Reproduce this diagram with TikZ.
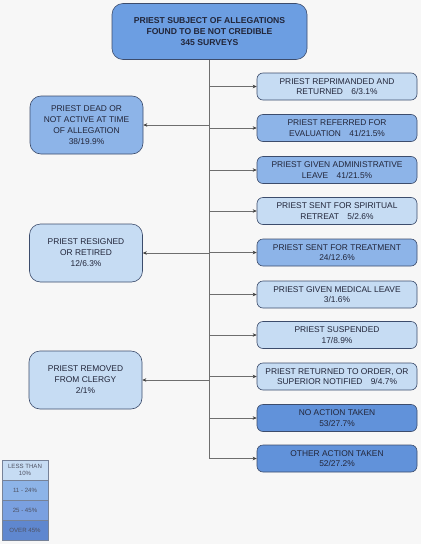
\documentclass[tikz,border=0pt]{standalone}
\usepackage{fontspec}
\setmainfont{Liberation Sans}
\usetikzlibrary{arrows.meta}
\definecolor{bgc}{HTML}{F7F7F7}
\definecolor{cA}{HTML}{C6DCF3}
\definecolor{cB}{HTML}{8DB4E8}
\definecolor{cC}{HTML}{6192DA}
\definecolor{cD}{HTML}{5F87CF}
\definecolor{cLC}{HTML}{7AA0E0}
\definecolor{cTop}{HTML}{6C9EE2}
\definecolor{bord}{HTML}{3C4C6C}
\definecolor{txt}{HTML}{22263A}
\definecolor{lin}{HTML}{6E6E6E}
\definecolor{tipc}{HTML}{404040}
\tikzset{
  box/.style={draw=bord, line width=0.6pt, align=center, text=txt, inner sep=1pt,
    font=\fontsize{8.4}{10.4}\selectfont},
  rbox/.style={box, rounded corners=6pt, minimum width=160pt, minimum height=27pt},
  lbox/.style={box, rounded corners=11pt, minimum width=113pt, minimum height=58pt,
    font=\fontsize{8.4}{11}\selectfont},
  legbox/.style={draw=bord!70, line width=0.4pt, align=center, text=txt!80, inner sep=0pt,
    minimum width=46pt, font=\fontsize{6.1}{7.5}\selectfont},
  arr/.style={draw=lin, line width=0.6pt, -{Stealth[length=4pt,width=3.5pt,color=tipc]}},
  trunk/.style={draw=lin, line width=0.6pt}
}
\begin{document}
\begin{tikzpicture}[x=1pt,y=-1pt]
\fill[bgc] (0,0) rectangle (421,544);
\useasboundingbox (0,0) rectangle (421,544);

\node[box, fill=cTop, rounded corners=11pt, minimum width=195pt, minimum height=56pt,
  font=\bfseries\fontsize{8.6}{10.6}\selectfont] (top) at (209.5,31.5)
  {PRIEST SUBJECT OF ALLEGATIONS\\FOUND TO BE NOT CREDIBLE\\345 SURVEYS};

% left boxes
\node[lbox, fill=cB] (l1) at (86.5,125) {PRIEST DEAD OR\\NOT ACTIVE AT TIME\\OF ALLEGATION\\38/19.9\%};
\node[lbox, fill=cA] (l2) at (86,253) {PRIEST RESIGNED\\OR RETIRED\\12/6.3\%};
\node[lbox, fill=cA] (l3) at (85.5,380) {PRIEST REMOVED\\FROM CLERGY\\2/1\%};

% right boxes
\node[rbox, fill=cA] (r1) at (337,86.5) {PRIEST REPRIMANDED AND\\RETURNED\quad 6/3.1\%};
\node[rbox, fill=cB] (r2) at (337,128) {PRIEST REFERRED FOR\\EVALUATION\quad 41/21.5\%};
\node[rbox, fill=cB] (r3) at (337,170) {PRIEST GIVEN ADMINISTRATIVE\\LEAVE\quad 41/21.5\%};
\node[rbox, fill=cA] (r4) at (337,211) {PRIEST SENT FOR SPIRITUAL\\RETREAT\quad 5/2.6\%};
\node[rbox, fill=cB] (r5) at (337,252.5) {PRIEST SENT FOR TREATMENT\\24/12.6\%};
\node[rbox, fill=cA] (r6) at (337,294.5) {PRIEST GIVEN MEDICAL LEAVE\\3/1.6\%};
\node[rbox, fill=cA] (r7) at (337,335) {PRIEST SUSPENDED\\17/8.9\%};
\node[rbox, fill=cA] (r8) at (337,376.5) {PRIEST RETURNED TO ORDER, OR\\SUPERIOR NOTIFIED\quad 9/4.7\%};
\node[rbox, fill=cC] (r9) at (337,418) {NO ACTION TAKEN\\53/27.7\%};
\node[rbox, fill=cC] (r10) at (337,458.5) {OTHER ACTION TAKEN\\52/27.2\%};

% trunk coordinates
\coordinate (tb) at (209,459);
\foreach \n/\y in {r1/86.5,r2/128,r3/170,r4/211,r5/252.5,r6/294.5,r7/335,r8/376.5,r9/418,r10/458.5}
  \coordinate (t\n) at (209,\y);
\foreach \n/\y in {l1/125,l2/253,l3/380}
  \coordinate (t\n) at (209,\y);

\draw[trunk] (top.south -| tb) -- (tb);
\foreach \n in {r1,r2,r3,r4,r5,r6,r7,r8,r9,r10}
  \draw[arr] (t\n) -- (\n.west);
\foreach \n in {l1,l2,l3}
  \draw[arr] (t\n) -- (\n.east);

% legend
\node[legbox, fill=cA, minimum height=20pt] (g1) at (25,470) {LESS THAN\\10\%};
\node[legbox, fill=cB, minimum height=20pt] (g2) at (25,490) {11 - 24\%};
\node[legbox, fill=cLC, minimum height=20pt] (g3) at (25,510) {25 - 45\%};
\node[legbox, fill=cD, minimum height=20pt] (g4) at (25,530) {OVER 45\%};
\end{tikzpicture}
\end{document}
